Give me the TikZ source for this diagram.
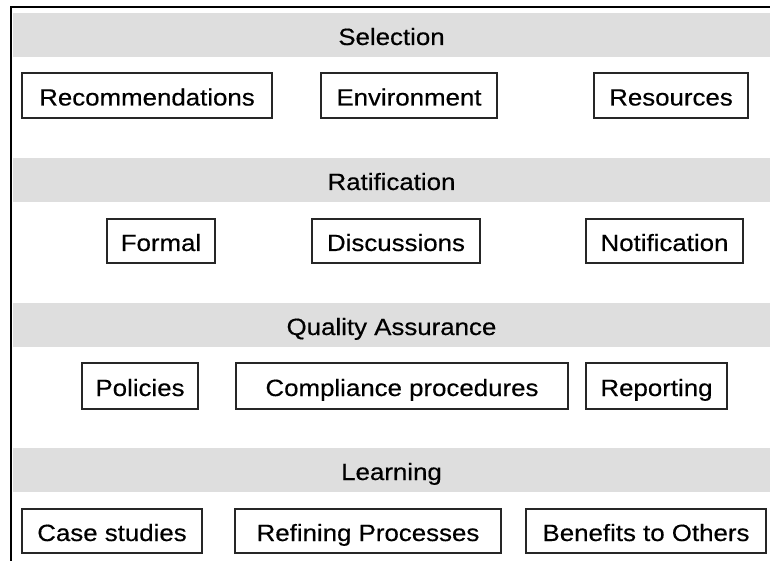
\documentclass[tikz,border=0pt]{standalone}
\usepackage{fontspec}
\setmainfont[FakeStretch=1.1,FakeBold=0.4]{Liberation Sans}
\begin{document}
\begin{tikzpicture}[x=1pt,y=-1pt,
  txt/.style={font=\fontsize{23.5}{28}\selectfont,text height=20pt,text depth=0pt},
  bx/.style={txt,draw=black!85,line width=1.2pt,fill=white,inner sep=0pt},
  band/.style={txt,fill=black!13,draw=none,inner sep=0pt,minimum width=757pt,minimum height=44pt},
  frame/.style={line width=2pt,draw=black}]
\useasboundingbox (0,0) rectangle (770,561);
\fill[white] (0,0) rectangle (770,561);
% frame lines
\coordinate (tl) at (10.5,7);
\coordinate (tr) at (770,7);
\coordinate (bl) at (10.5,561);
\draw[frame] (bl) -- (tl) -- (tr);
% bands
\node[band] (sel) at (391.5,35) {Selection};
\node[band] (rat) at (391.5,180) {Ratification};
\node[band] (qa) at (391.5,325) {Quality Assurance};
\node[band] (lrn) at (391.5,470) {Learning};
% row 1
\node[bx,minimum width=250pt,minimum height=45pt] (rec) at (147,95.5) {Recommendations};
\node[bx,minimum width=176pt,minimum height=45pt] (env) at (409,95.5) {Environment};
\node[bx,minimum width=154pt,minimum height=45pt] (res) at (671,95.5) {Resources};
% row 2
\node[bx,minimum width=108pt,minimum height=44pt] (for) at (161,241) {Formal};
\node[bx,minimum width=168pt,minimum height=44pt] (dis) at (396,241) {Discussions};
\node[bx,minimum width=157pt,minimum height=44pt] (not) at (664.5,241) {Notification};
% row 3
\node[bx,minimum width=116pt,minimum height=46pt] (pol) at (140,386) {Policies};
\node[bx,minimum width=332pt,minimum height=46pt] (com) at (402,386) {Compliance procedures};
\node[bx,minimum width=141pt,minimum height=46pt] (rep) at (656.5,386) {Reporting};
% row 4
\node[bx,minimum width=180pt,minimum height=44pt] (cas) at (112,531) {Case studies};
\node[bx,minimum width=266pt,minimum height=44pt] (ref) at (368,531) {Refining Processes};
\node[bx,minimum width=240pt,minimum height=44pt] (ben) at (646,531) {Benefits to Others};
\end{tikzpicture}
\end{document}
